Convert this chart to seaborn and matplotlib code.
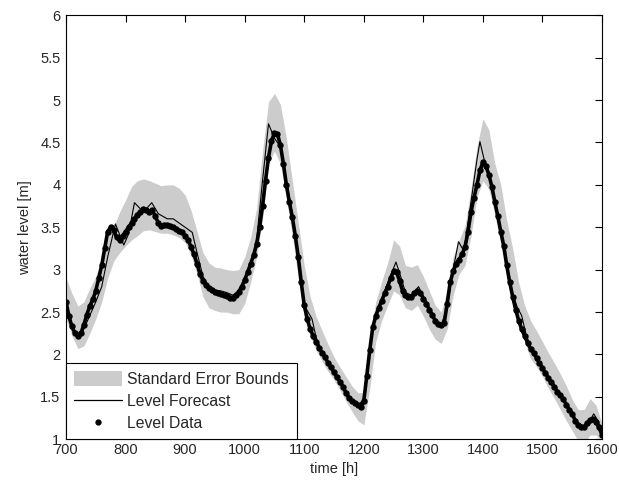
import numpy as np
import pandas as pd
import matplotlib
matplotlib.use("Agg")
import matplotlib.pyplot as plt
import seaborn as sns
from matplotlib.patches import Patch
from matplotlib.lines import Line2D

# ---------------- data ----------------
data_time = list(range(700, 1601, 5))
data_level = [
    2.62, 2.45, 2.33, 2.25, 2.22, 2.25, 2.35, 2.47, 2.57, 2.65,   # 700-745
    2.75, 2.90, 3.05, 3.25, 3.45, 3.50, 3.47, 3.38, 3.35, 3.40,   # 750-795
    3.45, 3.50, 3.55, 3.60, 3.65, 3.68, 3.72, 3.70, 3.68, 3.70,   # 800-845
    3.63, 3.55, 3.52, 3.53, 3.53, 3.52, 3.50, 3.48, 3.46, 3.44,   # 850-895
    3.40, 3.35, 3.27, 3.18, 3.07, 2.95, 2.87, 2.82, 2.78, 2.76,   # 900-945
    2.74, 2.72, 2.71, 2.70, 2.69, 2.67, 2.67, 2.70, 2.74, 2.80,   # 950-995
    2.88, 2.97, 3.07, 3.17, 3.30, 3.50, 3.75, 4.05, 4.32, 4.52,   # 1000-1045
    4.61, 4.60, 4.47, 4.25, 4.00, 3.80, 3.62, 3.40, 3.15, 2.85,   # 1050-1095
    2.58, 2.42, 2.30, 2.22, 2.15, 2.08, 2.02, 1.97, 1.90, 1.85,   # 1100-1145
    1.79, 1.73, 1.68, 1.62, 1.55, 1.49, 1.45, 1.43, 1.40, 1.38,   # 1150-1195
    1.45, 1.75, 2.05, 2.32, 2.45, 2.55, 2.63, 2.72, 2.80, 2.90,   # 1200-1245
    2.98, 2.97, 2.87, 2.75, 2.70, 2.68, 2.68, 2.72, 2.75, 2.73,   # 1250-1295
    2.66, 2.60, 2.53, 2.46, 2.40, 2.36, 2.35, 2.37, 2.60, 2.85,   # 1300-1345
    2.98, 3.07, 3.12, 3.18, 3.27, 3.45, 3.68, 3.85, 4.00, 4.17,   # 1350-1395
    4.27, 4.22, 4.12, 3.98, 3.80, 3.63, 3.45, 3.28, 3.05, 2.85,   # 1400-1445
    2.68, 2.53, 2.40, 2.30, 2.22, 2.14, 2.07, 2.02, 1.96, 1.90,   # 1450-1495
    1.84, 1.78, 1.72, 1.67, 1.62, 1.56, 1.52, 1.47, 1.41, 1.35,   # 1500-1545
    1.30, 1.22, 1.17, 1.15, 1.15, 1.19, 1.23, 1.24, 1.20, 1.14,   # 1550-1595
    1.05,                                                         # 1600
]

fc_time = [700, 710, 720, 730, 740, 750, 760, 770, 783, 797, 805, 815, 830, 844,
           855, 870, 880, 890, 900, 912, 920, 930, 940, 950, 960, 970, 980, 990,
           1000, 1010, 1020, 1030, 1040, 1050, 1060, 1070, 1080, 1090, 1100,
           1113, 1120, 1130, 1140, 1150, 1160, 1170, 1180, 1190, 1200, 1210,
           1220, 1230, 1240, 1254, 1262, 1270, 1280, 1292, 1300, 1310, 1320,
           1330, 1340, 1350, 1359, 1368, 1380, 1390, 1395, 1402, 1410, 1420,
           1430, 1440, 1450, 1458, 1465, 1472, 1480, 1490, 1500, 1510, 1520,
           1530, 1540, 1550, 1560, 1570, 1578, 1586, 1593, 1600]
fc_level = [2.60, 2.32, 2.22, 2.30, 2.46, 2.62, 2.80, 3.15, 3.54, 3.29, 3.42, 3.79, 3.68, 3.79,
            3.66, 3.60, 3.60, 3.55, 3.50, 3.44, 3.20, 2.92, 2.80, 2.76, 2.75, 2.73, 2.70, 2.72,
            2.85, 3.05, 3.35, 4.05, 4.72, 4.55, 4.45, 4.05, 3.65, 3.18, 2.58,
            2.42, 2.20, 2.03, 1.91, 1.81, 1.70, 1.56, 1.46, 1.40, 1.47, 2.10,
            2.48, 2.65, 2.84, 3.09, 2.92, 2.73, 2.70, 2.80, 2.68, 2.55, 2.41,
            2.35, 2.55, 3.00, 3.33, 3.22, 3.80, 4.30, 4.51, 4.30, 4.15, 3.78,
            3.48, 3.08, 2.72, 2.55, 2.46, 2.25, 2.09, 1.97, 1.85, 1.72, 1.62,
            1.52, 1.42, 1.30, 1.18, 1.15, 1.20, 1.30, 1.22, 1.08]

band_time = list(range(700, 1601, 10))
band_lower = [2.42, 2.22, 2.07, 2.10, 2.25, 2.42, 2.62, 2.90, 3.10, 3.20,   # 700-790
              3.28, 3.35, 3.40, 3.46, 3.47, 3.45, 3.43, 3.43, 3.41, 3.38,   # 800-890
              3.32, 3.17, 2.95, 2.68, 2.55, 2.52, 2.50, 2.50, 2.48, 2.48,   # 900-990
              2.60, 2.85, 3.15, 3.60, 4.25, 4.40, 4.25, 3.85, 3.40, 2.90,   # 1000-1090
              2.45, 2.22, 2.05, 1.92, 1.80, 1.70, 1.58, 1.45, 1.33, 1.22,   # 1100-1190
              1.17, 1.60, 2.15, 2.40, 2.58, 2.75, 2.70, 2.55, 2.52, 2.58,   # 1200-1290
              2.45, 2.30, 2.18, 2.13, 2.30, 2.70, 2.95, 3.05, 3.40, 3.85,   # 1300-1390
              4.05, 3.95, 3.65, 3.30, 2.92, 2.60, 2.35, 2.15, 1.95, 1.86,   # 1400-1490
              1.74, 1.60, 1.48, 1.35, 1.22, 1.10, 0.98, 0.95, 1.05, 1.05,   # 1500-1590
              0.95]
band_upper = [2.91, 2.72, 2.57, 2.62, 2.78, 2.92, 3.15, 3.40, 3.50, 3.68,   # 700-790
              3.82, 3.98, 4.05, 4.07, 4.05, 4.02, 3.99, 4.00, 4.00, 3.96,   # 800-890
              3.88, 3.70, 3.45, 3.20, 3.08, 3.03, 3.02, 3.00, 2.99, 3.00,   # 900-990
              3.15, 3.38, 3.72, 4.40, 4.98, 5.08, 4.95, 4.55, 4.05, 3.55,   # 1000-1090
              3.05, 2.68, 2.45, 2.28, 2.12, 1.97, 1.85, 1.74, 1.63, 1.55,   # 1100-1190
              1.55, 2.22, 2.62, 2.86, 3.08, 3.35, 3.28, 3.05, 3.03, 3.06,   # 1200-1290
              2.92, 2.75, 2.58, 2.50, 2.75, 3.15, 3.35, 3.52, 3.95, 4.45,   # 1300-1390
              4.78, 4.65, 4.25, 4.00, 3.58, 3.25, 2.85, 2.58, 2.40, 2.28,   # 1400-1490
              2.15, 2.02, 1.90, 1.77, 1.63, 1.47, 1.35, 1.35, 1.48, 1.40,   # 1500-1590
              1.18]

x_ticks = [700, 800, 900, 1000, 1100, 1200, 1300, 1400, 1500, 1600]
y_ticks = [1, 1.5, 2, 2.5, 3, 3.5, 4, 4.5, 5, 5.5, 6]
y_tick_labels = ["1", "1.5", "2", "2.5", "3", "3.5", "4", "4.5", "5", "5.5", "6"]

# ---------------- style ----------------
sns.set_style("white")
plt.rcParams["font.family"] = ["Liberation Sans", "DejaVu Sans"]
plt.rcParams["font.size"] = 10.5

band_color = "#cccccc"

df_data = pd.DataFrame({"time": data_time, "level": data_level})
df_fc = pd.DataFrame({"time": fc_time, "level": fc_level})
df_band = pd.DataFrame({"time": band_time, "lower": band_lower, "upper": band_upper})

fig = plt.figure(figsize=(6.19, 4.84), dpi=100)
ax = fig.add_axes([0.1066, 0.0924, 0.866, 0.876])

ax.fill_between(df_band["time"], df_band["lower"], df_band["upper"],
                color=band_color, linewidth=0, zorder=1)

sns.lineplot(data=df_data, x="time", y="level", ax=ax, color="black",
             linewidth=2.6, marker="o", markersize=4.6, markeredgewidth=0,
             zorder=2, legend=False)
sns.lineplot(data=df_fc, x="time", y="level", ax=ax, color="black",
             linewidth=0.8, zorder=3, legend=False)

ax.set_xlim(700, 1600)
ax.set_ylim(1, 6)
ax.set_xticks(x_ticks)
ax.set_xticklabels([str(t) for t in x_ticks])
ax.set_yticks(y_ticks)
ax.set_yticklabels(y_tick_labels)
ax.tick_params(direction="in", length=5, width=0.8, top=True, right=True,
               labelsize=10.5, color="black")
ax.tick_params(axis="x", pad=3)
ax.tick_params(axis="y", pad=4)
for s in ax.spines.values():
    s.set_visible(True)
    s.set_color("black")
    s.set_linewidth(0.8)

ax.set_xlabel("time [h]", fontsize=10.5, labelpad=3)
ax.set_ylabel("water level [m]", fontsize=10.5, labelpad=6)

handles = [
    Patch(facecolor=band_color, edgecolor="none", label="Standard Error Bounds"),
    Line2D([0], [0], color="black", linewidth=0.9, label="Level Forecast"),
    Line2D([0], [0], color="black", linestyle="none", marker="o",
           markersize=3.5, label="Level Data"),
]
leg = ax.legend(handles=handles, loc="lower left", borderaxespad=0.0,
                frameon=True, fancybox=False, framealpha=1.0,
                edgecolor="black", fontsize=11.3, handlelength=3.1,
                handleheight=1.1, labelspacing=0.42, borderpad=0.5,
                handletextpad=0.3)
leg.get_frame().set_linewidth(0.8)

fig.savefig("out.png", dpi=100)
